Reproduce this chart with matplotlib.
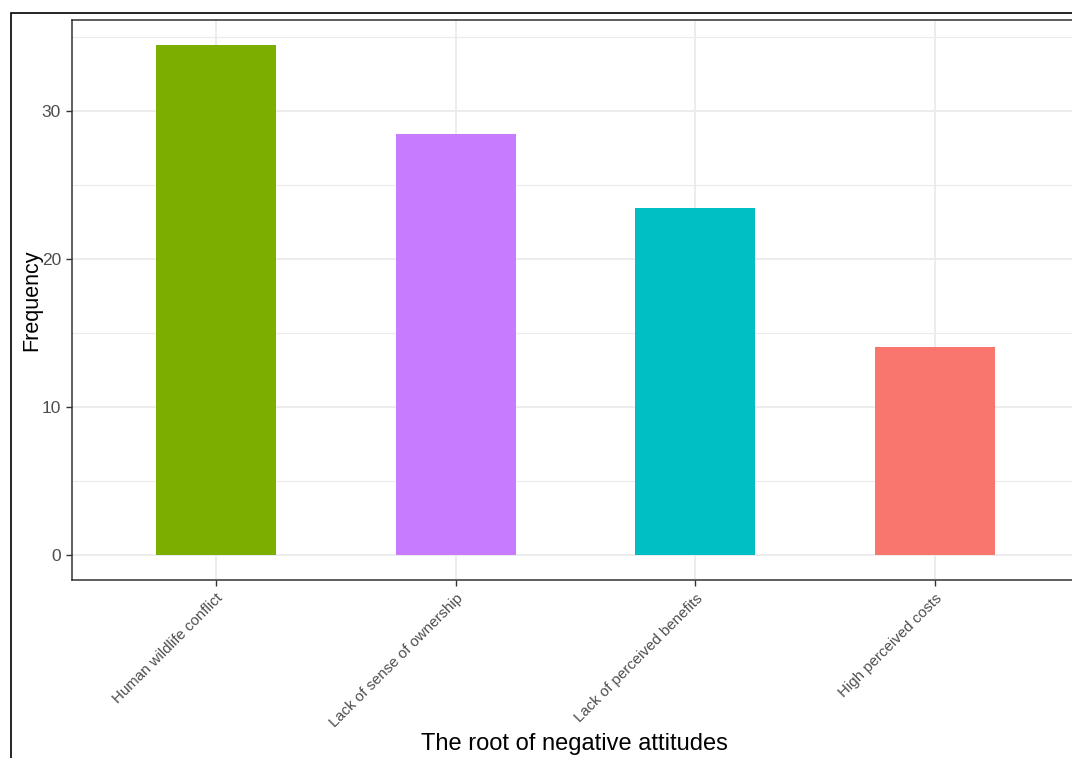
import matplotlib
matplotlib.use("Agg")
import matplotlib.pyplot as plt
from matplotlib.patches import Rectangle

# data
categories = ["Human wildlife conflict", "Lack of sense of ownership",
              "Lack of perceived benefits", "High perceived costs"]
freq = [34.4, 28.4, 23.4, 14.0]
colors = ["#7CAE00", "#C77CFF", "#00BFC4", "#F8766D"]
yticks = [0, 10, 20, 30]
yminor = [5, 15, 25, 35]

plt.rcParams["font.family"] = ["Liberation Sans", "DejaVu Sans"]

W, H = 1072, 758
fig = plt.figure(figsize=(W / 100, H / 100), dpi=100)

# panel runs past the right edge like in the cropped screenshot
left, right, top, bottom = 72, 1079, 20, 580
ax = fig.add_axes([left / W, 1 - bottom / H, (right - left) / W, (bottom - top) / H])

x = list(range(1, len(categories) + 1))
ax.bar(x, freq, width=0.5, color=colors, zorder=3)

ymax = max(freq)
ax.set_ylim(-0.05 * ymax, ymax * 1.05)
ax.set_xlim(0.4, len(categories) + 0.6)

ax.set_yticks(yticks)
ax.set_yticks(yminor, minor=True)
ax.set_xticks(x)
ax.set_xticklabels(categories, rotation=45, ha="right", va="top",
                   rotation_mode="anchor")

ax.grid(which="major", color="#EBEBEB", linewidth=1.3, zorder=0)
ax.grid(which="minor", axis="y", color="#EBEBEB", linewidth=0.8, zorder=0)
ax.set_axisbelow(True)

for s in ax.spines.values():
    s.set_color("#333333")
    s.set_linewidth(1.1)

ax.tick_params(axis="both", which="major", colors="#333333", length=4, width=1.0,
               labelcolor="#4D4D4D", pad=4)
ax.tick_params(axis="x", labelsize=10.8)
ax.tick_params(axis="y", labelsize=12.5)
ax.tick_params(axis="y", which="minor", length=0)

ax.set_xlabel("The root of negative attitudes", fontsize=17, color="black")
ax.xaxis.set_label_coords(0.4985, (bottom - 744) / (bottom - top))
ax.xaxis.label.set_va("center")
ax.set_ylabel("Frequency", fontsize=15.5, color="black")
ax.yaxis.set_label_coords((32 - left) / (right - left), 0.5)
ax.yaxis.label.set_va("center")

# outer frame of the screenshot
fig.patches.append(Rectangle((10.5 / W, -0.1), 1.2, 1.1 - 13.5 / H,
                             transform=fig.transFigure, fill=False,
                             edgecolor="black", linewidth=1.2))

fig.savefig("out.png", dpi=100)
